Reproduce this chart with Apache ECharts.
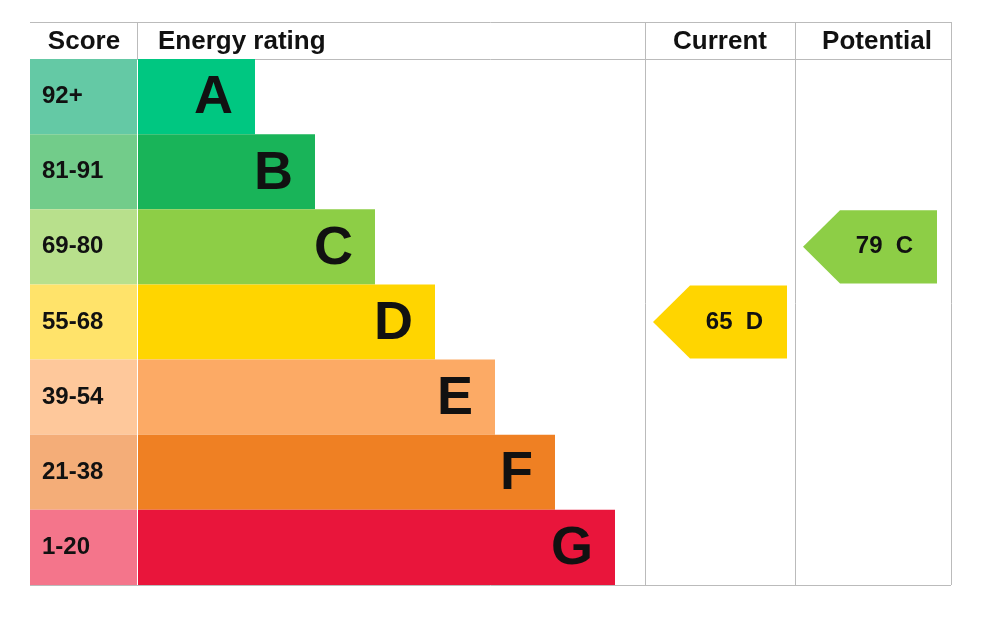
<!DOCTYPE html>
<html><head><meta charset="utf-8">
<script src="https://cdn.jsdelivr.net/npm/echarts@6/dist/echarts.min.js"></script>
<style>html,body{margin:0;padding:0;background:#fff}#c{width:991px;height:637px}</style>
</head><body><div id="c"></div>
<script>
const bands = ['A','B','C','D','E','F','G'];
const scoreRanges = ['92+','81-91','69-80','55-68','39-54','21-38','1-20'];
const bandMins = [92,81,69,55,39,21,1];
const barColors = ['#00c781','#19b459','#8dce46','#ffd500','#fcaa65','#ef8023','#e9153b'];
const scoreColors = ['#64c9a5','#72cc8a','#b8e08c','#ffe36a','#fec89b','#f4ad78','#f4758b'];
const barEnds = [255,315,375,435,495,555,615];
const currentScore = 65, potentialScore = 79;
function bandOf(s){for(let i=0;i<bandMins.length;i++) if(s>=bandMins[i]) return i; return 6;}
const FONT = 'Liberation Sans, Arial, sans-serif';
const chart = echarts.init(document.getElementById('c'));
const lineC = '#bbbbbb';
function renderRow(params, api){
  const i = api.value(0);
  const h = api.size([0,1])[1];
  const c0 = api.coord([30, i]); const cy = c0[1]; const top = cy - h/2;
  const xs = v => api.coord([v,i])[0];
  const x30=xs(30), x137=xs(137), x138=xs(138), xe=xs(api.value(1));
  return {type:'group', children:[
    {type:'rect', shape:{x:x30,y:top,width:x137-x30,height:h}, style:{fill:scoreColors[i]}},
    {type:'rect', shape:{x:x138,y:top,width:xe-x138,height:h}, style:{fill:barColors[i]}},
    {type:'text', x:x30+12, y:cy, style:{text:scoreRanges[i], font:'bold 24px '+FONT, fill:'#111', verticalAlign:'middle'}},
    {type:'text', x:xe-22, y:cy+2, style:{text:bands[i], font:'bold 54px '+FONT, fill:'#111', align:'right', verticalAlign:'middle'}}
  ]};
}
function renderArrow(params, api){
  const s = api.value(0); const i = bandOf(s);
  const h = api.size([0,1])[1];
  const cy = api.coord([0,i])[1]; const top=cy-h/2+1, bot=cy+h/2-1;
  const x0 = api.coord([api.value(1),i])[0], x1 = api.coord([api.value(2),i])[0];
  const xb = x0+37;
  return {type:'group', children:[
    {type:'polygon', shape:{points:[[x0,cy],[xb,top],[x1,top],[x1,bot],[xb,bot]]}, style:{fill:barColors[i]}},
    {type:'text', x:(xb+x1)/2-4, y:cy, style:{text:s+'  '+bands[i], font:'bold 24px '+FONT, fill:'#111', align:'center', verticalAlign:'middle'}}
  ]};
}
chart.setOption({
  animation:false,
  grid:{left:0,right:0,top:59,bottom:52},
  xAxis:{type:'value',min:0,max:991,show:false},
  yAxis:{type:'category',data:bands,inverse:true,show:false},
  series:[
    {type:'custom', renderItem:renderRow, data:bands.map((b,i)=>[i,barEnds[i]])},
    {type:'custom', renderItem:renderArrow, data:[[currentScore,653,787],[potentialScore,803,937]]}
  ],
  graphic:[
    {type:'line',shape:{x1:30,y1:22.5,x2:951,y2:22.5},style:{stroke:lineC,lineWidth:1}},
    {type:'line',shape:{x1:30,y1:59.5,x2:951,y2:59.5},style:{stroke:lineC,lineWidth:1}},
    {type:'line',shape:{x1:30,y1:585.5,x2:951,y2:585.5},style:{stroke:lineC,lineWidth:1}},
    {type:'line',shape:{x1:137.5,y1:22,x2:137.5,y2:59},style:{stroke:lineC,lineWidth:1}},
    {type:'line',shape:{x1:645.5,y1:22,x2:645.5,y2:585},style:{stroke:lineC,lineWidth:1}},
    {type:'line',shape:{x1:795.5,y1:22,x2:795.5,y2:585},style:{stroke:lineC,lineWidth:1}},
    {type:'line',shape:{x1:951.5,y1:22,x2:951.5,y2:585},style:{stroke:lineC,lineWidth:1}},
    {type:'text',x:84,y:42,style:{text:'Score',font:'bold 26px '+FONT,fill:'#111',align:'center',verticalAlign:'middle'}},
    {type:'text',x:158,y:42,style:{text:'Energy rating',font:'bold 26px '+FONT,fill:'#111',verticalAlign:'middle'}},
    {type:'text',x:720,y:42,style:{text:'Current',font:'bold 26px '+FONT,fill:'#111',align:'center',verticalAlign:'middle'}},
    {type:'text',x:877,y:42,style:{text:'Potential',font:'bold 26px '+FONT,fill:'#111',align:'center',verticalAlign:'middle'}}
  ]
});
</script></body></html>
